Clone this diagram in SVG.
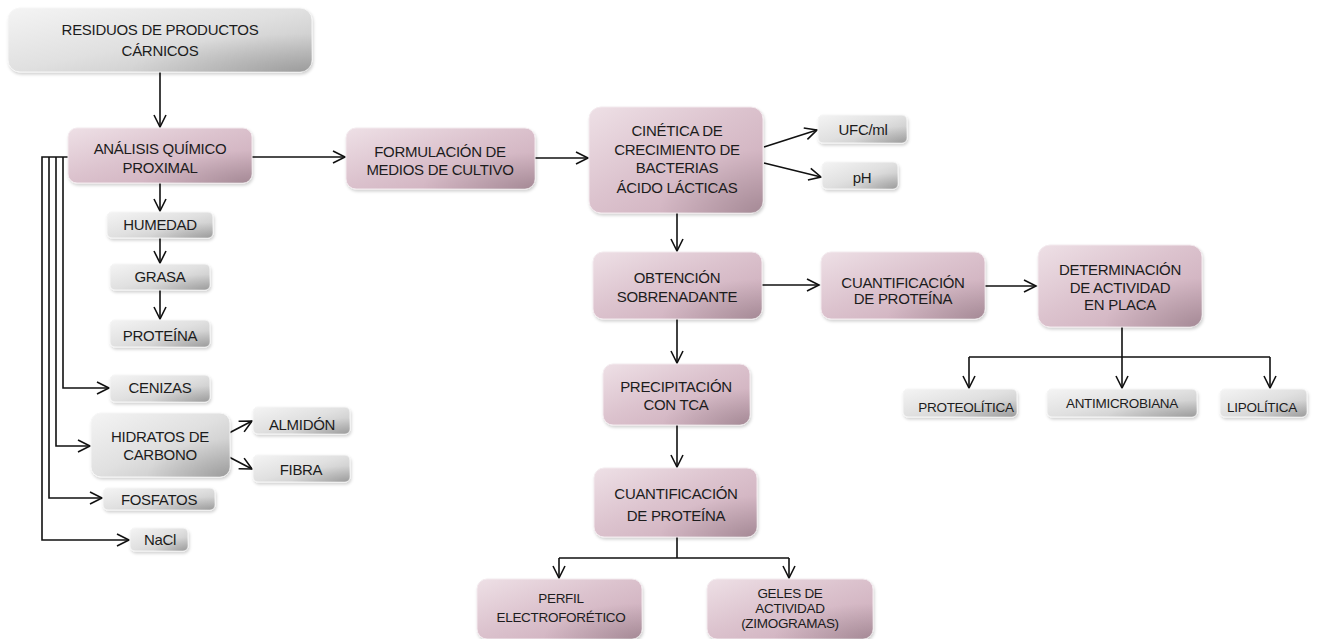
<svg xmlns="http://www.w3.org/2000/svg" width="1319" height="639" viewBox="0 0 1319 639">
<defs>
<linearGradient id="gPink" x1="0" y1="0" x2="1" y2="1">
<stop offset="0" stop-color="#eee0e6"/>
<stop offset="0.45" stop-color="#dcc3ce"/>
<stop offset="1" stop-color="#c9a7b6"/>
</linearGradient>
<linearGradient id="gGray" x1="0" y1="0" x2="1" y2="1">
<stop offset="0" stop-color="#f4f4f4"/>
<stop offset="0.5" stop-color="#e0e0e0"/>
<stop offset="1" stop-color="#bdbdbd"/>
</linearGradient>
<radialGradient id="curl" cx="1" cy="1" r="0.6">
<stop offset="0" stop-color="#000" stop-opacity="0.18"/>
<stop offset="1" stop-color="#000" stop-opacity="0"/>
</radialGradient>
<filter id="sh" x="-10%" y="-20%" width="120%" height="150%">
<feDropShadow dx="1" dy="2" stdDeviation="1.5" flood-color="#000" flood-opacity="0.18"/>
</filter>
<marker id="ar" markerUnits="userSpaceOnUse" markerWidth="16" markerHeight="14" refX="13" refY="7" orient="auto">
<path d="M1,1 L13,7 L1,13" fill="none" stroke="#111" stroke-width="1.6"/>
</marker>
</defs>
<style>
.pink{fill:url(#gPink);stroke:#f3eaee;stroke-width:1;filter:url(#sh)}
.gray{fill:url(#gGray);stroke:#f6f6f6;stroke-width:1;filter:url(#sh)}
.curl{fill:url(#curl);stroke:none}
text{font-family:"Liberation Sans",Arial,sans-serif;fill:#1c1c1c;text-anchor:middle}
.t{font-size:15px;letter-spacing:-0.3px}
.s{font-size:13.5px;letter-spacing:-0.3px}
.c{fill:none;stroke:#111;stroke-width:1.6}
.a{fill:none;stroke:#111;stroke-width:1.6;marker-end:url(#ar)}
</style>
<rect width="1319" height="639" fill="#fff"/>

<g id="connectors">
<path class="a" d="M160,72 V127"/>
<path class="a" d="M160,183 V211"/>
<path class="a" d="M160,238 V263"/>
<path class="a" d="M160,290 V319"/>
<path class="a" d="M68,157 H42 V540 H129"/>
<path class="a" d="M63,157 V388 H109"/>
<path class="a" d="M56,157 V446 H90"/>
<path class="a" d="M49,157 V498 H102"/>
<path class="a" d="M229,433 L252,421"/>
<path class="a" d="M229,457 L252,469"/>
<path class="a" d="M252,157 H345"/>
<path class="a" d="M535,158 H588"/>
<path class="a" d="M764,147 L817,130"/>
<path class="a" d="M764,163 L821,177"/>
<path class="a" d="M677,213 V251"/>
<path class="a" d="M762,285 H819"/>
<path class="a" d="M985,286 H1036"/>
<path class="c" d="M1122,327 V357 M969,357 H1270"/>
<path class="a" d="M969,357 V388"/>
<path class="a" d="M1122,357 V388"/>
<path class="a" d="M1270,357 V388"/>
<path class="a" d="M677,319 V363"/>
<path class="a" d="M677,425 V467"/>
<path class="c" d="M677,537 V558 M559,558 H789"/>
<path class="a" d="M559,558 V578"/>
<path class="a" d="M789,558 V578"/>
</g>

<g id="n-residuos">
<rect class="gray" x="8" y="8" width="304" height="64" rx="12"/>
<rect class="curl" x="8" y="8" width="304" height="64" rx="12"/>
<text class="t" x="160" y="35">RESIDUOS DE PRODUCTOS</text>
<text class="t" x="160" y="56">CÁRNICOS</text>
</g>

<g id="n-analisis">
<rect class="pink" x="68" y="128" width="184" height="55" rx="9"/>
<rect class="curl" x="68" y="128" width="184" height="55" rx="9"/>
<text class="t" x="160" y="154">ANÁLISIS QUÍMICO</text>
<text class="t" x="160" y="173">PROXIMAL</text>
</g>

<g id="n-humedad">
<rect class="gray" x="107" y="212" width="106" height="26" rx="5"/>
<rect class="curl" x="107" y="212" width="106" height="26" rx="5"/>
<text class="t" x="160" y="230">HUMEDAD</text>
</g>

<g id="n-grasa">
<rect class="gray" x="110" y="264" width="100" height="26" rx="5"/>
<rect class="curl" x="110" y="264" width="100" height="26" rx="5"/>
<text class="t" x="160" y="282">GRASA</text>
</g>

<g id="n-proteina">
<rect class="gray" x="110" y="320" width="100" height="27" rx="5"/>
<rect class="curl" x="110" y="320" width="100" height="27" rx="5"/>
<text class="t" x="160" y="341">PROTEÍNA</text>
</g>

<g id="n-cenizas">
<rect class="gray" x="110" y="375" width="100" height="27" rx="5"/>
<rect class="curl" x="110" y="375" width="100" height="27" rx="5"/>
<text class="t" x="160" y="393">CENIZAS</text>
</g>

<g id="n-hidratos">
<rect class="gray" x="91" y="413" width="139" height="64" rx="10"/>
<rect class="curl" x="91" y="413" width="139" height="64" rx="10"/>
<text class="t" x="160" y="442">HIDRATOS DE</text>
<text class="t" x="160" y="460">CARBONO</text>
</g>

<g id="n-almidon">
<rect class="gray" x="253" y="407" width="97" height="27" rx="5"/>
<rect class="curl" x="253" y="407" width="97" height="27" rx="5"/>
<text class="t" x="302" y="430">ALMIDÓN</text>
</g>

<g id="n-fibra">
<rect class="gray" x="253" y="455" width="97" height="27" rx="5"/>
<rect class="curl" x="253" y="455" width="97" height="27" rx="5"/>
<text class="t" x="301" y="475">FIBRA</text>
</g>

<g id="n-fosfatos">
<rect class="gray" x="103" y="488" width="112" height="22" rx="5"/>
<rect class="curl" x="103" y="488" width="112" height="22" rx="5"/>
<text class="t" x="159" y="505">FOSFATOS</text>
</g>

<g id="n-nacl">
<rect class="gray" x="130" y="528" width="58" height="23" rx="5"/>
<rect class="curl" x="130" y="528" width="58" height="23" rx="5"/>
<text class="t" x="160" y="545">NaCl</text>
</g>

<g id="n-formulacion">
<rect class="pink" x="346" y="128" width="189" height="61" rx="10"/>
<rect class="curl" x="346" y="128" width="189" height="61" rx="10"/>
<text class="t" x="440" y="157">FORMULACIÓN DE</text>
<text class="t" x="440" y="175">MEDIOS DE CULTIVO</text>
</g>

<g id="n-cinetica">
<rect class="pink" x="589" y="107" width="174" height="106" rx="12"/>
<rect class="curl" x="589" y="107" width="174" height="106" rx="12"/>
<text class="t" x="677" y="136">CINÉTICA DE</text>
<text class="t" x="677" y="155">CRECIMIENTO DE</text>
<text class="t" x="677" y="173">BACTERIAS</text>
<text class="t" x="677" y="193">ÁCIDO LÁCTICAS</text>
</g>

<g id="n-ufc">
<rect class="gray" x="818" y="115" width="89" height="28" rx="5"/>
<rect class="curl" x="818" y="115" width="89" height="28" rx="5"/>
<text class="t" x="863" y="135">UFC/ml</text>
</g>

<g id="n-ph">
<rect class="gray" x="822" y="162" width="76" height="27" rx="5"/>
<rect class="curl" x="822" y="162" width="76" height="27" rx="5"/>
<text class="t" x="862" y="183">pH</text>
</g>

<g id="n-obtencion">
<rect class="pink" x="593" y="252" width="169" height="67" rx="10"/>
<rect class="curl" x="593" y="252" width="169" height="67" rx="10"/>
<text class="t" x="677" y="283">OBTENCIÓN</text>
<text class="t" x="677" y="302">SOBRENADANTE</text>
</g>

<g id="n-cuant1">
<rect class="pink" x="821" y="252" width="164" height="67" rx="10"/>
<rect class="curl" x="821" y="252" width="164" height="67" rx="10"/>
<text class="t" x="903" y="288">CUANTIFICACIÓN</text>
<text class="t" x="903" y="304">DE PROTEÍNA</text>
</g>

<g id="n-determinacion">
<rect class="pink" x="1038" y="245" width="164" height="82" rx="12"/>
<rect class="curl" x="1038" y="245" width="164" height="82" rx="12"/>
<text class="t" x="1120" y="275">DETERMINACIÓN</text>
<text class="t" x="1120" y="293">DE ACTIVIDAD</text>
<text class="t" x="1120" y="310">EN PLACA</text>
</g>

<g id="n-proteolitica">
<rect class="gray" x="903" y="389" width="114" height="28" rx="5"/>
<rect class="curl" x="903" y="389" width="114" height="28" rx="5"/>
<text class="s" x="966" y="412">PROTEOLÍTICA</text>
</g>

<g id="n-antimicrobiana">
<rect class="gray" x="1047" y="389" width="150" height="28" rx="5"/>
<rect class="curl" x="1047" y="389" width="150" height="28" rx="5"/>
<text class="s" x="1122" y="408">ANTIMICROBIANA</text>
</g>

<g id="n-lipolitica">
<rect class="gray" x="1220" y="389" width="87" height="28" rx="5"/>
<rect class="curl" x="1220" y="389" width="87" height="28" rx="5"/>
<text class="s" x="1262" y="412">LIPOLÍTICA</text>
</g>

<g id="n-precipitacion">
<rect class="pink" x="603" y="364" width="147" height="61" rx="10"/>
<rect class="curl" x="603" y="364" width="147" height="61" rx="10"/>
<text class="t" x="676" y="392">PRECIPITACIÓN</text>
<text class="t" x="676" y="410">CON TCA</text>
</g>

<g id="n-cuant2">
<rect class="pink" x="594" y="468" width="163" height="69" rx="10"/>
<rect class="curl" x="594" y="468" width="163" height="69" rx="10"/>
<text class="t" x="676" y="499">CUANTIFICACIÓN</text>
<text class="t" x="676" y="521">DE PROTEÍNA</text>
</g>

<g id="n-perfil">
<rect class="pink" x="477" y="579" width="165" height="60" rx="10"/>
<rect class="curl" x="477" y="579" width="165" height="60" rx="10"/>
<text class="s" x="561" y="603">PERFIL</text>
<text class="s" x="561" y="622">ELECTROFORÉTICO</text>
</g>

<g id="n-geles">
<rect class="pink" x="707" y="579" width="166" height="60" rx="10"/>
<rect class="curl" x="707" y="579" width="166" height="60" rx="10"/>
<text class="s" x="790" y="598">GELES DE</text>
<text class="s" x="790" y="613">ACTIVIDAD</text>
<text class="s" x="790" y="628">(ZIMOGRAMAS)</text>
</g>
</svg>
